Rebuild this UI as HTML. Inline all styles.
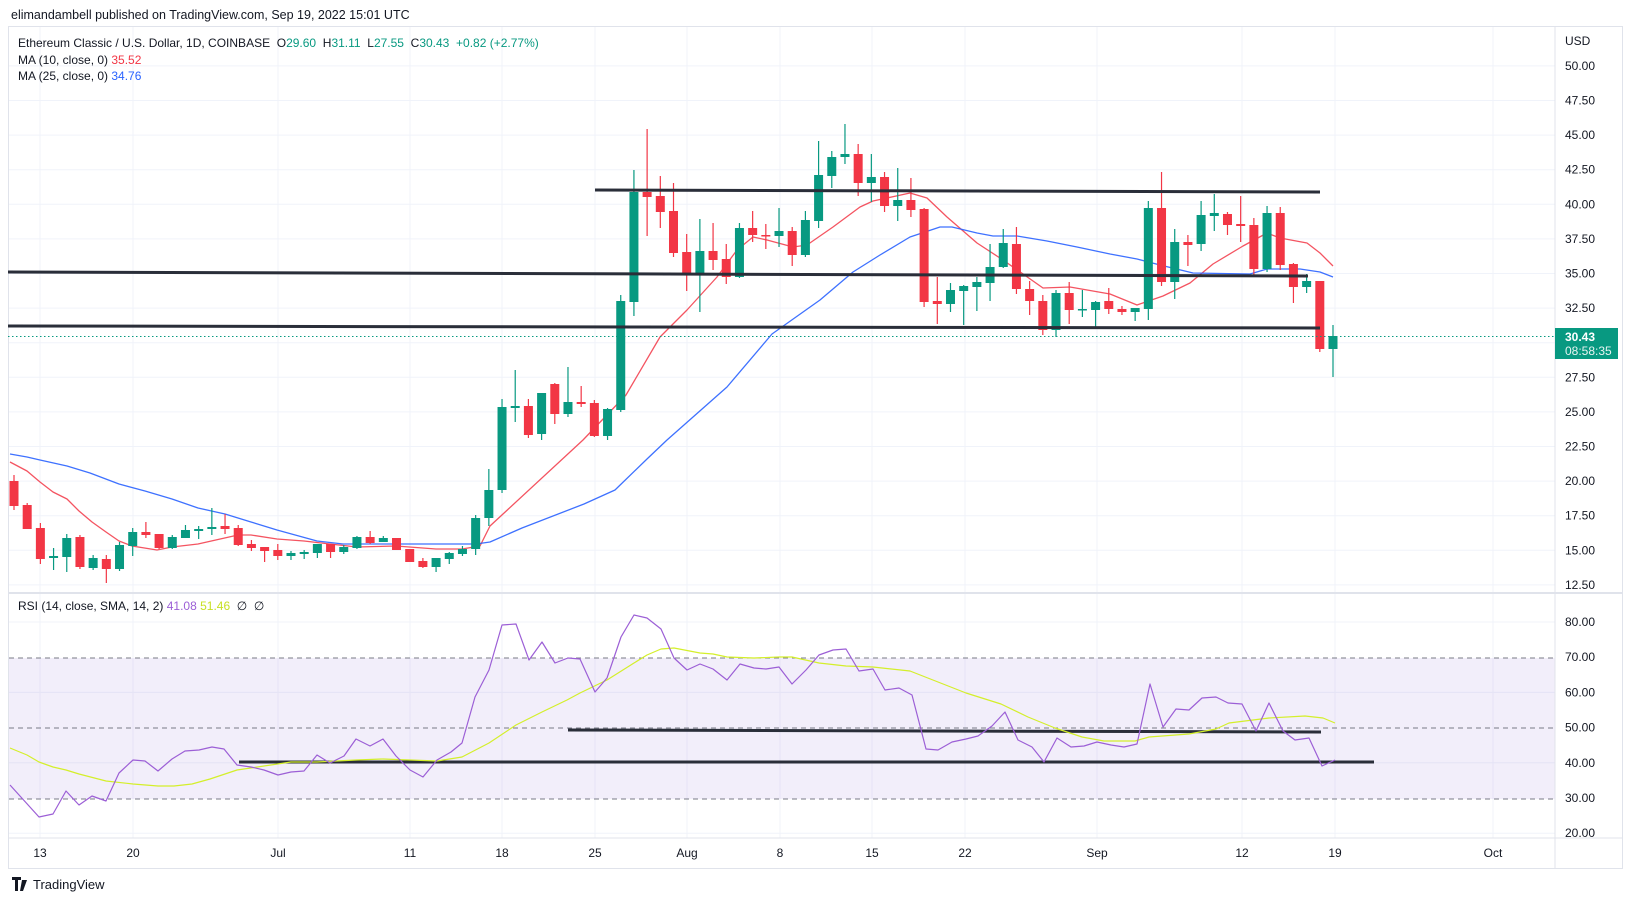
<!DOCTYPE html>
<html><head><meta charset="utf-8"><style>
html,body{margin:0;padding:0;background:#fff;}
svg{display:block;font-family:"Liberation Sans",sans-serif;}
</style></head><body>
<svg id="s" width="1633" height="901" viewBox="0 0 1633 901" xmlns="http://www.w3.org/2000/svg">
<rect width="1633" height="901" fill="#fff"/>
<text x="11" y="19" font-size="12.5" fill="#131722">elimandambell published on TradingView.com, Sep 19, 2022 15:01 UTC</text>
<rect x="8.5" y="26.5" width="1614" height="842" fill="none" stroke="#e0e3eb"/>
<g id="grid"></g>
<rect x="9" y="658" width="1546" height="141" fill="#9c7ed6" fill-opacity="0.13"/>
<g stroke="#787b86" stroke-dasharray="5,4" stroke-width="1">
<line x1="9" y1="658" x2="1555" y2="658"/><line x1="9" y1="728" x2="1555" y2="728"/><line x1="9" y1="799" x2="1555" y2="799"/></g>
<line x1="8" y1="593" x2="1622" y2="593" stroke="#e0e3eb" stroke-width="2"/>
<line x1="1555" y1="26" x2="1555" y2="868" stroke="#e0e3eb"/>
<line x1="8" y1="838" x2="1622" y2="838" stroke="#e0e3eb"/>
<g id="ma"></g>
<g id="candles"></g>
<g stroke="#2a2e39" stroke-width="3">
<line x1="595" y1="190" x2="1320" y2="192"/>
<line x1="8" y1="272" x2="1308" y2="276"/>
<line x1="8" y1="326" x2="1320" y2="328"/>
<line x1="568" y1="730" x2="1321" y2="732"/>
<line x1="239" y1="762" x2="1374" y2="762"/>
</g>
<line x1="8" y1="336.5" x2="1555" y2="336.5" stroke="#089981" stroke-dasharray="1.5,2.5"/>
<g id="rsi"></g>
<g font-size="12" fill="#131722">
<text x="18" y="47"><tspan>Ethereum Classic / U.S. Dollar, 1D, COINBASE&#160;&#160;O</tspan><tspan fill="#089981">29.60</tspan><tspan>&#160;&#160;H</tspan><tspan fill="#089981">31.11</tspan><tspan>&#160;&#160;L</tspan><tspan fill="#089981">27.55</tspan><tspan>&#160;&#160;C</tspan><tspan fill="#089981">30.43&#160;&#160;+0.82 (+2.77%)</tspan></text>
<text x="18" y="64">MA (10, close, 0)&#160;<tspan fill="#f23645">35.52</tspan></text>
<text x="18" y="80">MA (25, close, 0)&#160;<tspan fill="#2962ff">34.76</tspan></text>
<text x="18" y="610">RSI (14, close, SMA, 14, 2)&#160;<tspan fill="#9c5fd6">41.08</tspan>&#160;<tspan fill="#c8e024">51.46</tspan><tspan>&#160;&#160;∅&#160;&#160;∅</tspan></text>
<text x="1565" y="45">USD</text>
</g>
<g id="axis" font-size="12" fill="#131722"></g>
<rect x="1555" y="328" width="63" height="31" fill="#089981"/>
<text x="1565" y="341" font-size="12" font-weight="bold" fill="#fff">30.43</text>
<text x="1565" y="355" font-size="12" fill="#e6f4f1">08:58:35</text>
<g transform="translate(12,877)"><path d="M0 0h9v3H6v11H3V3H0z M10 3h5l-4 11H8z" fill="#131722"/></g>
<text x="33" y="889" font-size="13" fill="#131722">TradingView</text>
</svg>
<script>
var NS="http://www.w3.org/2000/svg";
function el(p,t,a){var e=document.createElementNS(NS,t);for(var k in a)e.setAttribute(k,a[k]);document.getElementById(p).appendChild(e);return e;}
function yp(p){return 550.3-(p-15)*13.84;}
function yr(r){return 622+(80-r)*3.52;}
var vx=[40,133,278,410,502,595,687,780,872,965,1097,1242,1335,1493];
vx.forEach(function(x){el("grid","line",{x1:x,y1:27,x2:x,y2:838,stroke:"#f0f3fa"});});
for(var p=12.5;p<=50.01;p+=2.5){var y=yp(p);el("grid","line",{x1:9,y1:y,x2:1555,y2:y,stroke:"#f0f3fa"});
 var t=el("axis","text",{x:1565,y:y+4});t.textContent=p.toFixed(2);}
[20,30,40,50,60,70,80].forEach(function(r){var y=yr(r);if(r==80||r==20||r==60||r==40)el("grid","line",{x1:9,y1:y,x2:1555,y2:y,stroke:"#f0f3fa"});
 var t=el("axis","text",{x:1565,y:y+4});t.textContent=r.toFixed(2);});
var dl=["13","20","Jul","11","18","25","Aug","8","15","22","Sep","12","19","Oct"];
dl.forEach(function(s,i){var t=el("axis","text",{x:vx[i],y:857,"text-anchor":"middle"});t.textContent=s;});
var C=[[481,506,475,510],[505,529,503,529],[528,559,523,564],[558,556,548,570],[557,538,534,572],[537,567,535,569],[568,558,555,570],[559,569,555,583],[569,545,542,571],[546,532,528,556],[532,535,522,538],[534,548,534,549],[548,537,535,549],[538,530,525,538],[531,529,526,539],[529,527,508,535],[526,529,514,534],[528,545,525,546],[544,548,540,551],[547,551,547,562],[550,556,544,560],[556,553,551,560],[554,552,550,559],[553,544,544,558],[544,552,544,558],[552,547,545,554],[548,537,536,549],[537,543,531,544],[542,538,536,542],[538,550,538,550],[549,562,549,562],[561,567,558,568],[567,558,558,572],[559,553,552,564],[554,549,546,556],[549,518,515,555],[518,490,469,526],[490,407,399,493],[408,406,370,422],[406,435,399,438],[434,393,393,440],[384,414,383,424],[414,402,367,417],[402,404,386,407],[403,436,400,437],[436,409,408,440],[410,301,295,412],[302,192,170,316],[192,197,129,236],[196,212,176,228],[211,253,183,257],[252,274,234,291],[273,251,219,312],[251,260,223,270],[259,277,244,284],[277,228,223,278],[228,235,211,242],[235,236,224,249],[236,231,208,247],[231,255,227,266],[255,220,211,257],[221,175,141,228],[176,157,151,188],[157,154,124,164],[154,183,144,196],[183,177,154,202],[177,206,172,212],[206,200,168,221],[200,210,178,217],[209,302,208,307],[301,304,277,324],[304,290,283,312],[291,286,285,325],[287,282,277,311],[283,267,244,301],[267,243,229,268],[244,289,227,294],[289,301,281,315],[301,330,295,335],[330,293,290,337],[293,310,282,324],[310,309,290,317],[310,302,301,327],[301,309,288,314],[309,312,306,315],[312,308,308,321],[309,208,201,320],[208,282,172,286],[282,242,229,299],[242,245,235,266],[244,215,201,251],[216,213,194,231],[214,225,212,235],[224,226,196,242],[225,269,218,277],[269,213,206,272],[213,265,207,270],[264,287,263,303],[287,281,274,293],[281,349,281,352],[349,336,325,377]];
C.forEach(function(c,i){var x=14+13.19*i;var up=c[1]<c[0];var col=up?"#089981":"#f23645";
 el("candles","line",{x1:x,y1:c[2],x2:x,y2:c[3],stroke:col,"stroke-width":1.2});
 var t=Math.min(c[0],c[1]),h=Math.max(1.5,Math.abs(c[1]-c[0]));
 el("candles","rect",{x:x-4.5,y:t,width:9,height:h,fill:col});});
function pl(g,pts,col,w,op){el(g,"polyline",{points:pts.map(function(p){return p.join(",");}).join(" "),fill:"none",stroke:col,"stroke-width":w,"stroke-opacity":op||1,"stroke-linejoin":"round"});}
pl("ma",[[10,462],[27,471],[40,482],[53,492],[67,499],[79,511],[92,522],[106,532],[119,541],[132,546],[157,550],[172,547],[198,544],[238,535],[251,535],[277,539],[304,541],[330,544],[357,547],[396,546],[436,549],[462,549],[480,546],[490,526],[583,440],[626,395],[660,337],[687,310],[717,277],[737,250],[753,237],[767,240],[793,247],[807,245],[833,227],[860,207],[873,201],[910,193],[927,198],[947,217],[977,243],[1003,260],[1043,288],[1070,287],[1110,294],[1137,305],[1163,296],[1190,283],[1213,264],[1243,246],[1267,233],[1280,238],[1307,243],[1320,253],[1333,266]],"#f23645",1.3,0.85);
pl("ma",[[10,454],[27,457],[40,460],[67,466],[90,473],[119,484],[145,491],[172,499],[198,508],[225,514],[251,522],[277,530],[317,541],[343,544],[396,544],[436,544],[476,544],[490,542],[522,528],[584,504],[615,490],[647,459],[667,440],[727,387],[772,334],[820,300],[853,272],[880,255],[910,237],[940,227],[952,227],[977,233],[993,236],[1017,236],[1047,241],[1077,247],[1110,254],[1137,259],[1160,265],[1193,273],[1250,274],[1267,269],[1300,269],[1320,272],[1333,277]],"#2962ff",1.3,0.9);
pl("rsi",[[10,748],[27,755],[39,762],[53,767],[66,770],[79,774],[106,781],[133,784],[158,786],[174,786],[192,784],[210,779],[237,770],[264,766],[291,762],[317,762],[356,760],[383,759],[410,760],[437,761],[462,757],[489,743],[516,725],[542,712],[567,700],[580,693],[607,680],[634,663],[647,655],[661,649],[674,648],[700,653],[713,654],[727,657],[754,658],[779,657],[792,657],[819,663],[846,666],[873,667],[910,671],[938,682],[966,693],[1001,704],[1028,717],[1055,728],[1082,737],[1104,741],[1135,741],[1149,737],[1189,734],[1216,729],[1229,723],[1269,718],[1305,716],[1323,718],[1335,723]],"#d4ef2a",1.2);
pl("rsi",[[10,785],[39,817],[53,814],[66,791],[79,805],[92,796],[106,801],[119,773],[133,760],[145,761],[158,771],[172,759],[185,751],[199,750],[212,747],[224,749],[237,765],[251,767],[264,770],[278,775],[291,772],[304,771],[317,755],[330,763],[344,756],[356,739],[370,746],[383,739],[396,756],[410,770],[423,777],[437,760],[451,752],[462,743],[475,697],[489,670],[502,625],[516,624],[529,660],[542,642],[555,663],[568,658],[580,659],[595,692],[607,678],[621,637],[634,615],[647,618],[661,629],[674,658],[687,670],[700,664],[713,669],[727,680],[740,664],[754,668],[766,669],[779,667],[792,684],[806,670],[819,655],[833,650],[846,649],[859,671],[873,669],[885,690],[899,688],[912,695],[926,749],[938,750],[952,742],[966,739],[978,736],[992,726],[1005,712],[1018,740],[1032,747],[1044,762],[1057,738],[1071,747],[1084,746],[1097,742],[1111,745],[1124,747],[1137,744],[1150,684],[1163,727],[1176,709],[1189,710],[1202,698],[1216,697],[1228,703],[1242,704],[1256,731],[1269,703],[1283,731],[1295,740],[1309,738],[1322,766],[1335,760]],"#9c5fd6",1.2);
</script>
</body></html>
